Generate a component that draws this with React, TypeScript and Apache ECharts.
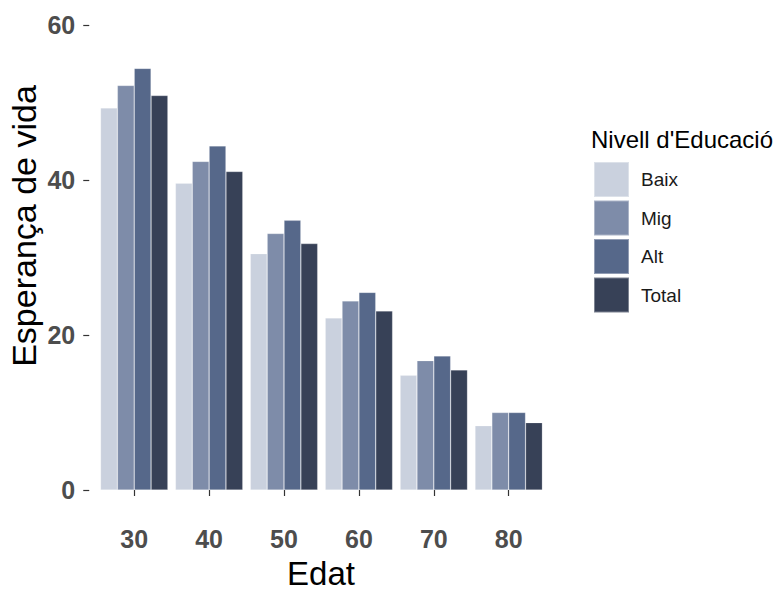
import React, { useEffect, useRef } from "react";
import * as echarts from "echarts";

const categories = ["30", "40", "50", "60", "70", "80"];
const seriesNames = ["Baix", "Mig", "Alt", "Total"];
const baix = [49.3, 39.6, 30.5, 22.2, 14.8, 8.3];
const mig = [52.2, 42.4, 33.1, 24.4, 16.7, 10.0];
const alt = [54.4, 44.4, 34.8, 25.5, 17.3, 10.0];
const total = [50.9, 41.1, 31.8, 23.1, 15.5, 8.7];
const yTicks = { min: 0, max: 60, interval: 20 };
const colors = ["#cad1de", "#7e8ca9", "#56688a", "#374157"];

const FONT = "'Liberation Sans', Arial, sans-serif";

export default function App() {
  const ref = useRef<HTMLDivElement>(null);
  useEffect(() => {
    if (!ref.current) return;
    const chart = echarts.init(ref.current, null, { renderer: "svg" });
    const values = [baix, mig, alt, total];
    chart.setOption({
      animation: false,
      backgroundColor: "#ffffff",
      textStyle: { fontFamily: FONT },
      grid: { left: 96.75, top: 25, width: 449.4, height: 465, containLabel: false },
      xAxis: {
        type: "category",
        data: categories,
        offset: 27,
        axisLine: { show: false },
        axisTick: { show: true, alignWithLabel: true, length: 6, lineStyle: { color: "#333333", width: 1.2 } },
        axisLabel: { fontSize: 25, fontWeight: "bold", color: "#4d4d4d", margin: 9, fontFamily: FONT },
        splitLine: { show: false },
      },
      yAxis: {
        type: "value",
        min: yTicks.min,
        max: yTicks.max,
        interval: yTicks.interval,
        offset: 7.5,
        axisLine: { show: false },
        axisTick: { show: true, length: 6, lineStyle: { color: "#333333", width: 1.2 } },
        axisLabel: { fontSize: 25, fontWeight: "bold", color: "#4d4d4d", margin: 14, fontFamily: FONT },
        splitLine: { show: false },
      },
      legend: {
        orient: "vertical",
        left: 593,
        top: 161,
        padding: 0,
        itemWidth: 35,
        itemHeight: 35,
        itemGap: 1.5,
        icon: "rect",
        selectedMode: false,
        data: seriesNames,
        textStyle: { fontSize: 19, color: "#1a1a1a", fontFamily: FONT, padding: [0, 0, 0, 7] },
      },
      graphic: [
        {
          type: "text",
          x: 24,
          y: 226,
          rotation: Math.PI / 2,
          style: {
            text: "Esperança de vida",
            fontSize: 34,
            fontFamily: FONT,
            fill: "#000000",
            align: "center",
            verticalAlign: "middle",
          },
        },
        {
          type: "text",
          x: 321,
          y: 573,
          style: {
            text: "Edat",
            fontSize: 33,
            fontFamily: FONT,
            fill: "#000000",
            align: "center",
            verticalAlign: "middle",
          },
        },
        {
          type: "text",
          x: 591,
          y: 139,
          style: {
            text: "Nivell d'Educació",
            fontSize: 24,
            fontFamily: FONT,
            fill: "#000000",
            align: "left",
            verticalAlign: "middle",
          },
        },
      ],
      series: seriesNames.map((name, i) => ({
        name,
        type: "bar",
        data: values[i],
        barGap: "0%",
        barCategoryGap: "10%",
        itemStyle: { color: colors[i], borderColor: "rgba(255,255,255,0.35)", borderWidth: 0.6 },
      })),
    });
    return () => chart.dispose();
  }, []);
  return <div ref={ref} style={{ width: 779, height: 590, position: "fixed", left: 0, top: 0 }} />;
}
